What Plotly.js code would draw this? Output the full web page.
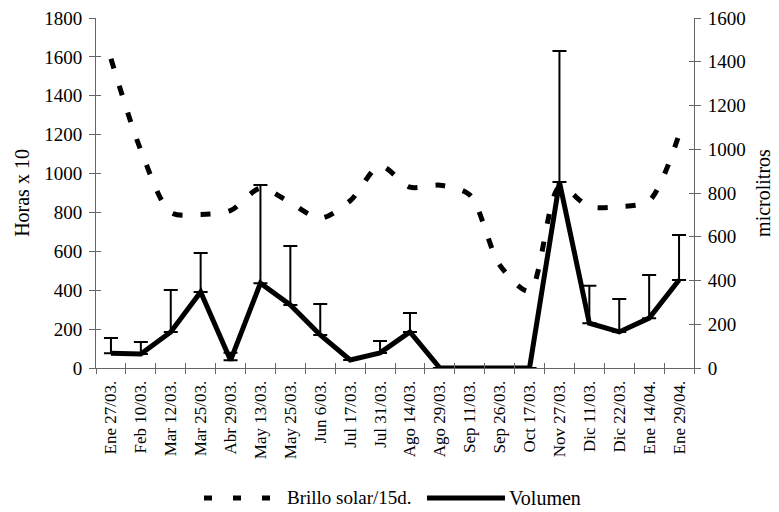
<!DOCTYPE html>
<html>
<head>
<meta charset="utf-8">
<script src="https://cdn.plot.ly/plotly-3.0.1.min.js"></script>
<style>html,body{margin:0;padding:0;background:#fff;}#chart{width:779px;height:512px;}</style>
</head>
<body>
<div id="chart"></div>
<script>
const categories = ['Ene 27/03.', 'Feb 10/03.', 'Mar 12/03.', 'Mar 25/03.', 'Abr 29/03.', 'May 13/03.', 'May 25/03.', 'Jun 6/03.', 'Jul 17/03.', 'Jul 31/03.', 'Ago 14/03.', 'Ago 29/03.', 'Sep 11/03.', 'Sep 26/03.', 'Oct 17/03.', 'Nov 27/03.', 'Dic 11/03.', 'Dic 22/03.', 'Ene 14/04.', 'Ene 29/04.'];
const brilloSolar = [1590, 1120, 800, 790, 810, 925, 850, 770, 860, 1040, 930, 940, 890, 530, 395, 930, 830, 830, 860, 1200];
const volumen = [68, 64, 165, 348, 35, 388, 288, 151, 37, 69, 165, 0, 0, 0, 0, 850, 205, 165, 228, 402];
const volumenErr = [69, 55, 192, 178, 35, 449, 270, 142, null, 54, 86, null, null, null, null, 599, 171, 150, 197, 206];
const leftTicks = [0, 200, 400, 600, 800, 1000, 1200, 1400, 1600, 1800];
const rightTicks = [0, 200, 400, 600, 800, 1000, 1200, 1400, 1600];

const serif = '"Liberation Serif", "DejaVu Serif", serif';

const traces = [
  {
    x: categories, y: brilloSolar, type: 'scatter', mode: 'lines', name: 'Brillo solar/15d.',
    line: {color: '#000', width: 5, dash: '10px,18px', shape: 'spline', smoothing: 0.8},
    yaxis: 'y', showlegend: false, hoverinfo: 'skip'
  },
  {
    x: categories, y: volumen, type: 'scatter', mode: 'lines', name: 'Volumen',
    line: {color: '#000', width: 5},
    error_y: {type: 'data', symmetric: false, array: volumenErr, arrayminus: volumen.map(() => 0), color: '#000', thickness: 2, width: 7},
    yaxis: 'y2', showlegend: false, hoverinfo: 'skip'
  }
];

const axisLine = {showline: true, linecolor: '#666', linewidth: 1, showgrid: false, zeroline: false};

const layout = {
  width: 779, height: 512,
  margin: {l: 96, r: 85, t: 18, b: 144},
  paper_bgcolor: '#fff', plot_bgcolor: '#fff',
  font: {family: serif, color: '#000'},
  showlegend: false,
  xaxis: Object.assign({}, axisLine, {
    type: 'category', categoryorder: 'array', categoryarray: categories,
    range: [-0.5, categories.length - 0.5],
    ticks: 'outside', ticklen: 5, tickcolor: '#666', tickson: 'boundaries',
    tickangle: -90, tickfont: {size: 17, family: serif, color: '#000'},
    ticklabelstandoff: 5, mirror: false
  }),
  xaxis2: {
    overlaying: 'x', type: 'linear', range: [-0.5, categories.length - 0.5],
    tick0: 0.5, dtick: 1, ticks: 'inside', ticklen: 5, tickcolor: '#666',
    showticklabels: false, showgrid: false, zeroline: false, showline: false, anchor: 'y', side: 'bottom'
  },
  yaxis: Object.assign({}, axisLine, {
    range: [0, 1800], tickvals: leftTicks, ticks: 'outside', ticklen: 6, tickcolor: '#666',
    tickfont: {size: 19, family: serif, color: '#000'}, ticklabelstandoff: 3,
    title: {text: 'Horas x 10', font: {size: 20, family: serif, color: '#000'}, standoff: 9}
  }),
  yaxis2: Object.assign({}, axisLine, {
    overlaying: 'y', side: 'right', range: [0, 1600], tickvals: rightTicks,
    ticks: 'outside', ticklen: 6, tickcolor: '#666',
    tickfont: {size: 19, family: serif, color: '#000'}, ticklabelstandoff: 3,
    title: {text: 'microlitros', font: {size: 20, family: serif, color: '#000'}, standoff: 11}
  }),
  yaxis3: {
    overlaying: 'y', side: 'left', range: [0, 1800], tickvals: leftTicks, ticks: 'inside', ticklen: 5,
    tickcolor: '#666', showticklabels: false, showgrid: false, zeroline: false, showline: false
  },
  yaxis4: {
    overlaying: 'y', side: 'right', range: [0, 1600], tickvals: rightTicks, ticks: 'inside', ticklen: 5,
    tickcolor: '#666', showticklabels: false, showgrid: false, zeroline: false, showline: false
  },
  shapes: [
    {type: 'line', xref: 'paper', yref: 'paper', x0: 0.1806, x1: 0.2926, y0: -0.3714, y1: -0.3714,
     line: {color: '#000', width: 5, dash: '8px,21px'}},
    {type: 'line', xref: 'paper', yref: 'paper', x0: 0.5535, x1: 0.6839, y0: -0.3714, y1: -0.3714,
     line: {color: '#000', width: 5}}
  ],
  annotations: [
    {text: 'Brillo solar/15d.', xref: 'paper', yref: 'paper', x: 0.3161, y: -0.3714, xanchor: 'left', yanchor: 'middle',
     showarrow: false, font: {size: 19, family: serif, color: '#000'}},
    {text: 'Volumen', xref: 'paper', yref: 'paper', x: 0.6873, y: -0.3714, xanchor: 'left', yanchor: 'middle',
     showarrow: false, font: {size: 20, family: serif, color: '#000'}}
  ]
};

traces.push({x: [0], y: [null], xaxis: 'x2', yaxis: 'y3', type: 'scatter', mode: 'lines', showlegend: false, hoverinfo: 'skip'});
traces.push({x: [0], y: [null], xaxis: 'x2', yaxis: 'y4', type: 'scatter', mode: 'lines', showlegend: false, hoverinfo: 'skip'});

Plotly.newPlot('chart', traces, layout, {staticPlot: true, displayModeBar: false});
</script>
</body>
</html>
